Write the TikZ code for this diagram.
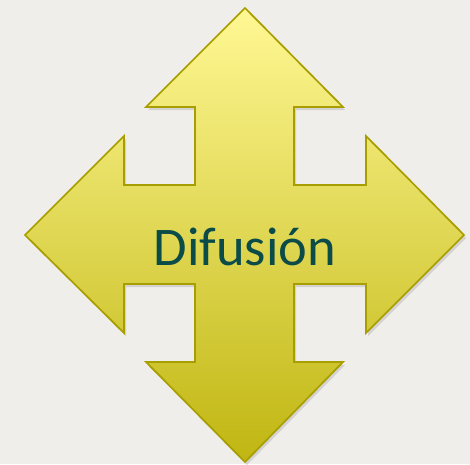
\documentclass[tikz,border=0pt]{standalone}
\usepackage{fontspec}
\setmainfont{Carlito}
\usetikzlibrary{shadows}

\definecolor{paper}{RGB}{240,238,235}
\definecolor{lighty}{RGB}{255,248,148}
\definecolor{midy}{RGB}{232,224,110}
\definecolor{darky}{RGB}{192,182,18}
\definecolor{rim}{RGB}{168,158,0}
\definecolor{ink}{RGB}{12,76,72}

\begin{document}
\begin{tikzpicture}[x = 1pt, y = -1pt,
  cross/.style = {draw = rim, line width = 1.7pt, line join = miter,
    top color = lighty, middle color = midy, bottom color = darky,
    drop shadow = {opacity = 0.25, shadow xshift = 2pt, shadow yshift = -3pt}},
  word/.style = {ink, font = \fontsize{54.5}{60}\selectfont, anchor = base}]
\fill[paper] (0,0) rectangle (470,464);
\path[cross] (245,8) -- (343,107) -- (294,107) -- (294,185) -- (366,185)
  -- (366,136) -- (464,235) -- (366,333) -- (366,284) -- (294,284)
  -- (294,362) -- (343,362) -- (245,462) -- (146,362) -- (195,362)
  -- (195,284) -- (124,284) -- (124,333) -- (25,235) -- (124,136)
  -- (124,185) -- (195,185) -- (195,107) -- (146,107) -- cycle;
\node[word] (difusion) at (245,265) {Difusión};
\end{tikzpicture}
\end{document}
